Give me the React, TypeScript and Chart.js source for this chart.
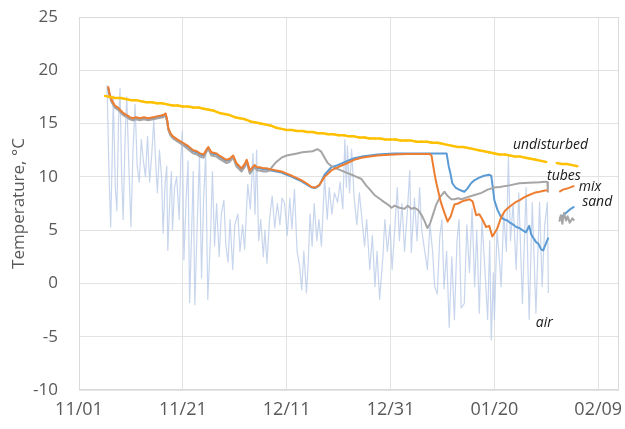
import React, { useEffect, useRef } from "react";
import { Chart, registerables } from "chart.js";

Chart.register(...registerables);

// X axis: days since 11/01
const tickDays = [0, 20, 40, 60, 80, 100];
const tickLabels = ["11/01", "11/21", "12/11", "12/31", "01/20", "02/09"];
const yTicks = { min: -10, max: 25, step: 5 };
const xMaxDay = 104;

// undisturbed ground (yellow)
const undisturbedDays = [5, 6, 7, 8, 9, 10, 11, 12, 13, 14, 15, 16, 17, 18, 19, 20, 21, 22, 23, 24, 25, 26, 27, 28, 29, 30, 31, 32, 33, 34, 35, 36, 37, 38, 39, 40, 41, 42, 43, 44, 45, 46, 47, 48, 49, 50, 51, 52, 53, 54, 55, 56, 57, 58, 59, 60, 61, 62, 63, 64, 65, 66, 67, 68, 69, 70, 71, 72, 73, 74, 75, 76, 77, 78, 79, 80, 81, 82, 83, 84, 85, 86, 87, 88, 89, 90, 91, 92, 93, 94, 95, 96];
const undisturbedTemps = [17.6, 17.5, 17.4, 17.4, 17.3, 17.2, 17.2, 17.1, 17.0, 17.0, 16.9, 16.9, 16.8, 16.7, 16.7, 16.6, 16.6, 16.5, 16.5, 16.4, 16.3, 16.2, 16.0, 15.9, 15.8, 15.6, 15.5, 15.4, 15.2, 15.1, 15.0, 14.9, 14.8, 14.6, 14.5, 14.4, 14.4, 14.3, 14.3, 14.2, 14.2, 14.1, 14.1, 14.0, 14.0, 13.9, 13.9, 13.8, 13.8, 13.7, 13.7, 13.6, 13.6, 13.6, 13.5, 13.5, 13.5, 13.4, 13.4, 13.4, 13.3, 13.3, 13.3, 13.2, 13.2, 13.1, 13.0, 12.9, 12.8, 12.8, 12.7, 12.6, 12.5, 12.4, 12.3, 12.2, 12.1, 12.1, 12.0, 11.9, 11.9, 11.8, 11.7, 11.6, 11.5, 11.4, null, 11.3, 11.2, 11.2, 11.1, 11.0];

// mix (orange)
const mixDays = [5.6, 5.9, 6.3, 6.9, 7.5, 7.9, 8.5, 9.2, 9.8, 10.4, 11.0, 11.7, 12.5, 13.3, 14.3, 15.2, 16.2, 16.7, 17.0, 17.2, 17.6, 18.1, 19.0, 20.0, 21.0, 22.0, 22.7, 23.3, 24.0, 24.6, 24.9, 25.5, 26.5, 27.0, 27.4, 28.0, 28.4, 29.0, 29.7, 30.3, 31.3, 31.9, 32.3, 32.9, 33.4, 33.8, 34.3, 34.8, 35.5, 36.1, 37.0, 38.0, 39.0, 40.0, 41.0, 41.9, 42.8, 43.8, 44.8, 45.5, 46.3, 47.3, 48.6, 49.8, 51.7, 53.0, 54.4, 56.0, 57.5, 59.0, 60.8, 63.0, 65.0, 67.5, 67.9, 68.3, 68.7, 69.0, 69.7, 70.4, 71.0, 71.6, 72.3, 73.0, 73.8, 74.5, 75.2, 75.8, 76.5, 77.1, 77.7, 78.4, 79.0, 79.6, 80.0, 80.5, 81.3, 82.0, 82.9, 84.0, 84.8, 85.8, 86.7, 87.7, 88.7, 89.5, 90.2, 91.0, 92.5, 93.2, 94.0, 95.4];
const mixTemps = [18.5, 17.8, 17.2, 16.7, 16.5, 16.3, 16.0, 15.8, 15.6, 15.5, 15.6, 15.5, 15.6, 15.5, 15.6, 15.7, 15.8, 15.95, 15.3, 14.6, 14.1, 13.8, 13.5, 13.2, 12.9, 12.5, 12.4, 12.2, 12.1, 12.6, 12.8, 12.3, 12.2, 12.0, 11.9, 11.7, 11.6, 11.7, 12.0, 11.3, 10.8, 11.2, 11.6, 10.6, 10.9, 11.1, 10.9, 10.9, 10.8, 10.8, 10.7, 10.6, 10.5, 10.3, 10.1, 9.9, 9.7, 9.4, 9.05, 9.0, 9.25, 10.0, 10.6, 10.9, 11.3, 11.6, 11.8, 11.9, 12.0, 12.05, 12.1, 12.15, 12.15, 12.15, 12.0, 10.8, 9.7, 9.05, 7.6, 6.6, 5.8, 6.3, 7.4, 7.5, 7.7, 7.8, 7.9, 7.7, 6.4, 6.5, 6.0, 5.3, 5.4, 4.4, 4.7, 5.1, 6.2, 6.8, 7.2, 7.6, 7.8, 8.1, 8.3, 8.5, 8.6, 8.7, 8.75, null, 8.6, 8.8, 8.9, 9.15];

// tubes (gray)
const tubesDays = [5.6, 5.9, 6.3, 6.9, 7.5, 7.9, 8.5, 9.2, 9.8, 10.4, 11.0, 11.7, 12.5, 13.3, 14.3, 15.2, 16.2, 16.7, 17.0, 17.2, 17.6, 18.1, 19.0, 20.0, 21.0, 22.0, 22.7, 23.3, 24.0, 24.6, 24.9, 25.5, 26.5, 27.0, 27.4, 28.0, 28.4, 29.0, 29.7, 30.3, 31.3, 31.9, 32.3, 32.9, 33.4, 33.8, 34.3, 34.8, 35.5, 36.1, 36.7, 37.3, 38.0, 39.0, 40.0, 41.0, 42.0, 43.0, 44.0, 45.0, 45.9, 46.6, 47.3, 47.9, 48.9, 50.0, 51.5, 53.0, 54.4, 55.3, 56.2, 56.9, 58.3, 59.5, 60.2, 60.8, 61.7, 62.7, 63.3, 64.0, 64.6, 65.3, 66.0, 66.6, 67.1, 67.6, 68.2, 68.8, 69.5, 70.4, 71.0, 71.7, 72.3, 73.0, 73.7, 74.8, 76.2, 77.5, 78.7, 80.0, 81.0, 82.9, 84.8, 86.7, 88.7, 89.8, 90.2, 90.3, 91.0, 92.5, 92.8, 93.1, 93.4, 93.8, 94.1, 94.5, 95.0, 95.4];
const tubesTemps = [18.3, 17.6, 17.0, 16.5, 16.3, 16.1, 15.8, 15.6, 15.4, 15.3, 15.4, 15.3, 15.4, 15.3, 15.4, 15.5, 15.6, 15.75, 15.1, 14.4, 13.9, 13.6, 13.3, 13.0, 12.6, 12.2, 12.1, 11.9, 11.8, 12.4, 12.6, 12.0, 11.9, 11.7, 11.6, 11.4, 11.3, 11.4, 11.8, 11.0, 10.5, 10.9, 11.4, 10.3, 10.6, 10.9, 10.6, 10.6, 10.5, 10.5, 10.6, 11.0, 11.4, 11.8, 12.0, 12.1, 12.2, 12.3, 12.35, 12.4, 12.6, 12.4, 11.8, 11.3, 10.9, 10.7, 10.4, 10.1, 9.8, 9.2, 8.7, 8.3, 7.8, 7.4, 7.1, 7.3, 7.1, 7.0, 7.3, 7.0, 7.1, 6.9, 6.4, 5.8, 5.2, 5.6, 6.5, 7.4, 8.1, 8.6, 8.2, 7.9, 7.9, 8.0, 7.9, 8.1, 8.3, 8.5, 8.8, 9.0, 9.05, 9.2, 9.4, 9.45, 9.5, 9.55, 9.5, 8.6, null, 5.8, 6.4, 5.6, 6.6, 5.9, 6.3, 5.7, 6.1, 5.9];

// sand (blue)
const sandDays = [5.6, 5.9, 6.3, 6.9, 7.5, 7.9, 8.5, 9.2, 9.8, 10.4, 11.0, 11.7, 12.5, 13.3, 14.3, 15.2, 16.2, 16.7, 17.0, 17.2, 17.6, 18.1, 19.0, 20.0, 21.0, 22.0, 22.7, 23.3, 24.0, 24.6, 24.9, 25.5, 26.5, 27.0, 27.4, 28.0, 28.4, 29.0, 29.7, 30.3, 31.3, 31.9, 32.3, 32.9, 33.4, 33.8, 34.3, 34.8, 35.5, 36.1, 37.0, 38.0, 39.0, 40.0, 41.0, 41.9, 42.8, 43.8, 44.8, 45.5, 46.3, 47.3, 48.6, 49.8, 51.7, 53.0, 54.4, 56.0, 57.5, 59.0, 60.8, 63.0, 67.5, 70.8, 71.2, 71.5, 71.9, 72.5, 73.2, 73.7, 74.2, 74.8, 75.5, 76.2, 77.0, 78.0, 79.0, 79.4, 79.7, 80.0, 80.6, 81.3, 81.9, 82.5, 83.0, 83.7, 84.2, 84.8, 85.4, 86.1, 86.7, 87.1, 87.6, 88.0, 88.5, 89.0, 89.4, 89.8, 90.4, 91.0, 92.5, 93.3, 94.0, 94.7, 95.4];
const sandTemps = [18.4, 17.7, 17.1, 16.6, 16.4, 16.2, 15.9, 15.7, 15.5, 15.4, 15.5, 15.4, 15.5, 15.4, 15.5, 15.6, 15.7, 15.85, 15.2, 14.5, 14.0, 13.7, 13.4, 13.1, 12.8, 12.4, 12.3, 12.1, 12.0, 12.5, 12.7, 12.2, 12.1, 11.9, 11.8, 11.6, 11.5, 11.6, 11.9, 11.2, 10.7, 11.1, 11.5, 10.5, 10.8, 11.0, 10.8, 10.8, 10.7, 10.7, 10.6, 10.5, 10.4, 10.2, 10.0, 9.8, 9.6, 9.3, 9.0, 8.95, 9.2, 10.2, 10.9, 11.1, 11.5, 11.75, 11.9, 12.0, 12.1, 12.15, 12.2, 12.2, 12.2, 12.2, 11.0, 10.4, 9.4, 9.0, 8.8, 8.7, 8.6, 8.9, 9.4, 9.7, 9.9, 10.1, 10.2, 10.1, 9.0, 7.8, 6.9, 6.2, 6.0, 5.9, 5.7, 5.5, 5.3, 5.2, 5.0, 4.8, 5.4, 4.6, 4.2, 3.9, 3.7, 3.2, 3.1, 3.6, 4.3, null, 6.1, 6.4, 6.7, 7.0, 7.2];

// air (light blue)
const airDays = [5.4, 5.8, 6.1, 6.4, 6.6, 7.0, 7.3, 7.6, 7.9, 8.2, 8.5, 8.9, 9.2, 9.6, 10.0, 10.4, 10.8, 11.2, 11.6, 12.0, 12.4, 12.8, 13.2, 13.6, 14.0, 14.4, 14.8, 15.1, 15.5, 15.9, 16.2, 16.6, 16.9, 17.1, 17.5, 17.8, 18.0, 18.4, 18.8, 19.3, 19.6, 19.9, 20.2, 20.6, 21.0, 21.3, 21.7, 22.0, 22.3, 22.8, 23.2, 23.6, 24.0, 24.4, 24.8, 25.3, 25.7, 26.1, 26.5, 27.0, 27.4, 27.9, 28.3, 28.7, 29.1, 29.6, 30.0, 30.6, 31.0, 31.5, 31.9, 32.5, 33.0, 33.5, 33.9, 34.2, 34.6, 35.0, 35.5, 35.8, 36.2, 36.7, 37.2, 37.7, 38.2, 38.7, 39.1, 39.6, 40.1, 40.6, 41.0, 41.5, 42.0, 42.5, 42.9, 43.3, 43.8, 44.1, 44.5, 44.9, 45.3, 45.8, 46.2, 46.7, 47.3, 47.8, 48.2, 48.7, 49.2, 49.8, 50.3, 50.8, 51.2, 51.5, 51.7, 52.1, 52.5, 53.0, 53.5, 54.0, 54.4, 55.0, 55.4, 56.0, 56.5, 57.0, 57.4, 57.9, 58.5, 58.9, 59.4, 59.9, 60.3, 60.8, 61.3, 61.7, 62.2, 62.7, 63.2, 63.7, 64.0, 64.6, 65.1, 65.6, 66.0, 66.5, 67.1, 67.6, 68.1, 68.5, 69.0, 69.5, 69.9, 70.3, 70.8, 71.3, 71.8, 72.3, 72.8, 73.2, 73.6, 74.2, 74.7, 75.2, 75.7, 76.2, 76.6, 77.1, 77.6, 78.1, 78.7, 79.1, 79.4, 79.8, 80.0, 80.5, 81.0, 81.3, 81.8, 82.3, 82.7, 83.1, 83.6, 84.2, 84.7, 85.4, 86.1, 86.7, 87.3, 88.0, 88.7, 89.2, 89.7, 90.2, 90.4];
const airTemps = [18.6, 10.0, 5.3, 12.0, 17.6, 9.0, 6.8, 15.0, 18.3, 10.5, 6.0, 14.0, 17.5, 11.0, 5.3, 12.5, 16.8, 11.0, 9.5, 13.5, 11.5, 10.0, 13.8, 9.5, 12.0, 15.3, 11.0, 8.5, 12.5, 10.0, 4.7, 9.5, 11.0, 3.1, 8.0, 10.5, 5.0, 9.0, 10.0, 6.0, 11.5, 14.3, 2.2, 7.5, 11.5, -1.8, 5.0, 10.5, -2.0, 6.0, 12.0, 0.5, 8.0, 12.2, -1.5, 4.0, 10.5, 3.5, 7.5, 2.5, 6.5, 7.8, 3.5, 2.0, 6.0, 1.3, 5.5, 6.5, 3.0, 5.5, 3.2, 9.3, 7.0, 12.2, 6.5, 12.5, 4.0, 6.0, 2.5, 5.0, 1.9, 6.0, 8.2, 5.2, 7.5, 5.5, 8.0, 7.5, 4.5, 8.0, 5.1, 8.8, 3.0, 1.6, -0.6, 3.0, -0.9, 1.5, 6.5, 3.5, 7.5, 4.0, 6.0, 3.5, 10.0, 6.0, 9.0, 6.5, 8.5, 7.6, 9.5, 7.0, 13.5, 9.0, 12.9, 8.5, 12.6, 8.0, 5.5, 8.5, 6.5, 3.5, 6.0, 1.3, 4.5, -0.3, 3.0, -1.5, 2.3, 6.0, 3.0, 5.5, 1.3, 5.0, 9.0, 4.0, 7.5, 3.0, 6.5, 10.6, 2.9, 8.0, 4.0, 9.0, 5.0, 3.3, 1.3, 5.5, 3.0, -0.3, -1.0, 4.5, 6.0, -0.5, 3.0, -4.1, 2.5, -3.4, 4.0, 6.0, -2.3, -1.9, 5.5, 1.0, 7.0, -0.3, 5.0, -2.8, 6.0, 2.0, -3.4, 4.0, -5.3, 1.0, -3.4, 5.0, 2.0, -0.3, 6.5, 3.0, 11.9, 4.0, 7.5, 1.3, 8.5, -1.9, 9.0, -3.4, 7.6, -2.8, 7.6, -0.3, 5.5, 7.6, -0.9];

// series name labels placed at (day, temperature)
const seriesLabels = ["undisturbed", "tubes", "mix", "sand", "air"];
const labelDays = [90.8, 93.4, 98.4, 99.8, 89.6];
const labelTemps = [13.0, 10.1, 9.0, 7.6, -3.7];

const FONT = '"Open Sans", "DejaVu Sans", sans-serif';
const GRID = "#e3e3e3";

const pts = (days: number[], temps: (number | null)[]) =>
  days.map((d, i) => ({ x: d, y: temps[i] }));

const labelPlugin = {
  id: "seriesLabels",
  beforeDatasetsDraw(chart: any) {
    const { ctx, chartArea } = chart;
    ctx.save();
    ctx.strokeStyle = "#dadada";
    ctx.lineWidth = 1;
    ctx.strokeRect(chartArea.left + 0.5, chartArea.top + 0.5, chartArea.right - chartArea.left - 1, chartArea.bottom - chartArea.top - 1);
    ctx.restore();
  },
  afterDatasetsDraw(chart: any) {
    const { ctx, scales } = chart;
    ctx.save();
    ctx.font = `italic 14px ${FONT}`;
    ctx.fillStyle = "#1a1a1a";
    ctx.textAlign = "center";
    ctx.textBaseline = "middle";
    seriesLabels.forEach((t, i) => {
      ctx.fillText(t, scales.x.getPixelForValue(labelDays[i]), scales.y.getPixelForValue(labelTemps[i]));
    });
    ctx.restore();
  },
};

export default function App() {
  const ref = useRef<HTMLCanvasElement>(null);
  useEffect(() => {
    if (!ref.current) return;
    const line = { pointRadius: 0, tension: 0, borderJoinStyle: "round" as const, spanGaps: false };
    const chart = new Chart(ref.current, {
      type: "line",
      data: {
        datasets: [
          {
            label: "undisturbed",
            data: pts(undisturbedDays, undisturbedTemps),
            borderColor: "#FFC000",
            backgroundColor: "#FFC000",
            borderWidth: 2.5,
            ...line,
            pointRadius: 1.4,
            pointStyle: "rect",
            pointBorderWidth: 0,
          },
          { label: "mix", data: pts(mixDays, mixTemps), borderColor: "#ED7D31", borderWidth: 2, ...line },
          { label: "tubes", data: pts(tubesDays, tubesTemps), borderColor: "#A5A5A5", borderWidth: 2, ...line },
          { label: "sand", data: pts(sandDays, sandTemps), borderColor: "#5B9BD5", borderWidth: 2, ...line },
          { label: "air", data: pts(airDays, airTemps), borderColor: "rgba(180,199,231,0.75)", borderWidth: 1.2, ...line },
        ],
      },
      options: {
        responsive: false,
        animation: false,
        devicePixelRatio: 1,
        layout: { padding: { top: 17, right: 6, bottom: 0, left: 0 } },
        plugins: { legend: { display: false }, tooltip: { enabled: false } },
        scales: {
          x: {
            type: "linear",
            min: 0,
            max: xMaxDay,
            afterBuildTicks: (s: any) => {
              s.ticks = tickDays.map((v) => ({ value: v }));
            },
            afterFit: (s: any) => {
              s.height = 39;
              s.paddingLeft = 0;
              s.paddingRight = 0;
            },
            grid: { color: GRID, drawTicks: false },
            border: { display: false },
            ticks: {
              padding: 9,
              maxRotation: 0,
              autoSkip: false,
              color: "#595959",
              font: { family: FONT, size: 18 },
              callback: (v: any) => tickLabels[tickDays.indexOf(Number(v))] ?? "",
            },
          },
          y: {
            min: yTicks.min,
            max: yTicks.max,
            afterFit: (s: any) => {
              s.width = 79;
              s.paddingTop = 0;
              s.paddingBottom = 0;
            },
            grid: { color: GRID, drawTicks: false },
            border: { display: false },
            ticks: {
              stepSize: yTicks.step,
              padding: 21,
              color: "#595959",
              font: { family: FONT, size: 17 },
            },
            title: {
              display: true,
              text: "Temperature, °C",
              color: "#595959",
              font: { family: FONT, size: 17 },
              padding: { top: 9, bottom: 0 },
            },
          },
        },
      },
      plugins: [labelPlugin],
    });
    return () => chart.destroy();
  }, []);
  return (
    <div style={{ position: "absolute", left: 0, top: 0, width: 625, height: 429, background: "#fff" }}>
      <canvas ref={ref} width={625} height={429} />
    </div>
  );
}
